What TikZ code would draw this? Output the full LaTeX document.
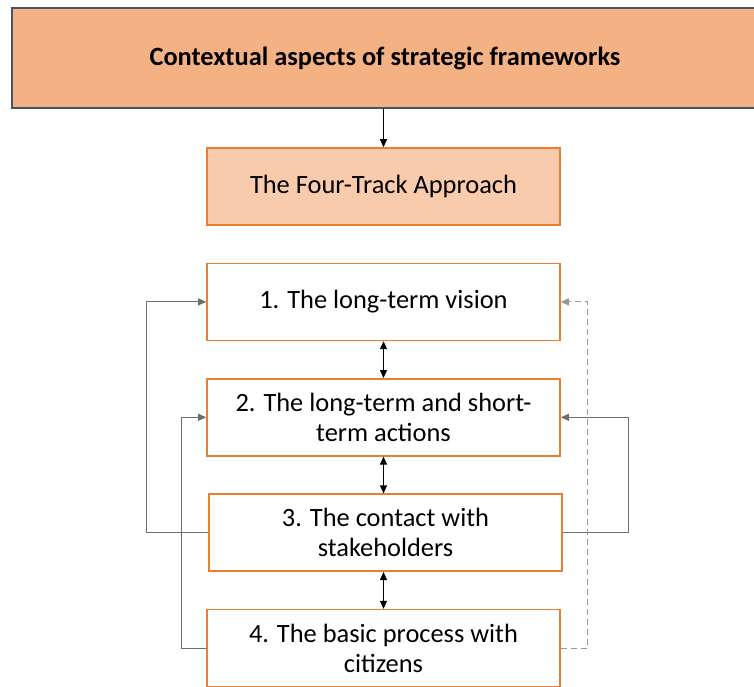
\documentclass[tikz,border=0pt]{standalone}
\usepackage{fontspec}
\setmainfont{Carlito}
\usetikzlibrary{arrows.meta,positioning}
\definecolor{headpeach}{RGB}{244,177,131}
\definecolor{trackpeach}{RGB}{248,203,173}
\definecolor{edgeorange}{RGB}{237,125,49}
\definecolor{headedge}{RGB}{68,84,106}
\definecolor{linkgray}{RGB}{110,110,110}
\definecolor{dashgray}{RGB}{150,150,150}

\begin{document}
\begin{tikzpicture}[
  x=0.5pt,y=-0.5pt,
  node distance=18.4pt,
  every node/.style={font=\fontsize{13.2}{15}\selectfont,align=center},
  heading/.style={draw=headedge,line width=0.6pt,fill=headpeach,
                  minimum width=373pt,minimum height=50pt,inner sep=0pt,
                  font=\fontsize{13.2}{15}\selectfont\bfseries},
  track/.style={draw=edgeorange,line width=0.8pt,fill=white,
                minimum width=176.5pt,minimum height=38.5pt,inner sep=2pt},
  arr/.style={-{Triangle[length=4pt,width=3.5pt]},line width=0.5pt},
  dblarr/.style={{Triangle[length=4pt,width=3.5pt]}-{Triangle[length=4pt,width=3.5pt]},
                 line width=0.5pt},
  link/.style={arr,draw=linkgray},
  dashlink/.style={arr,draw=dashgray,dash pattern=on 3pt off 2pt}
]
\clip (0,0) rectangle (754,686);

% header and the approach box
\node[heading] (frame) at (385,58) {Contextual aspects of strategic frameworks};
\node[track,fill=trackpeach] (fourtrack) at (383.5,186.5) {The Four-Track Approach};
\draw[arr] (fourtrack.north |- frame.south) -- (fourtrack.north);

% the four tracks
\node[track,below=of fourtrack] (vision) {1. The long-term vision};
\node[track,below=of vision] (actions) {2. The long-term and short-\\term actions};
\node[track,below=of actions,xshift=1pt] (contact) {3. The contact with\\stakeholders};
\node[track,below=of contact,xshift=-1pt] (citizens) {4. The basic process with\\citizens};

\draw[dblarr] (vision.south) -- (actions.north);
\draw[dblarr] (actions.south) -- (actions.south |- contact.north);
\draw[dblarr] (citizens.north |- contact.south) -- (citizens.north);

% feedback loops
\draw[link] (contact.west) -- ++(-62,0) |- (vision.west);
\draw[link] (citizens.west) -- ++(-25,0) |- (actions.west);
\draw[link] (contact.east) -- ++(66,0) |- (actions.east);
\draw[dashlink] (citizens.east) -- ++(27,0) |- (vision.east);
\end{tikzpicture}
\end{document}
